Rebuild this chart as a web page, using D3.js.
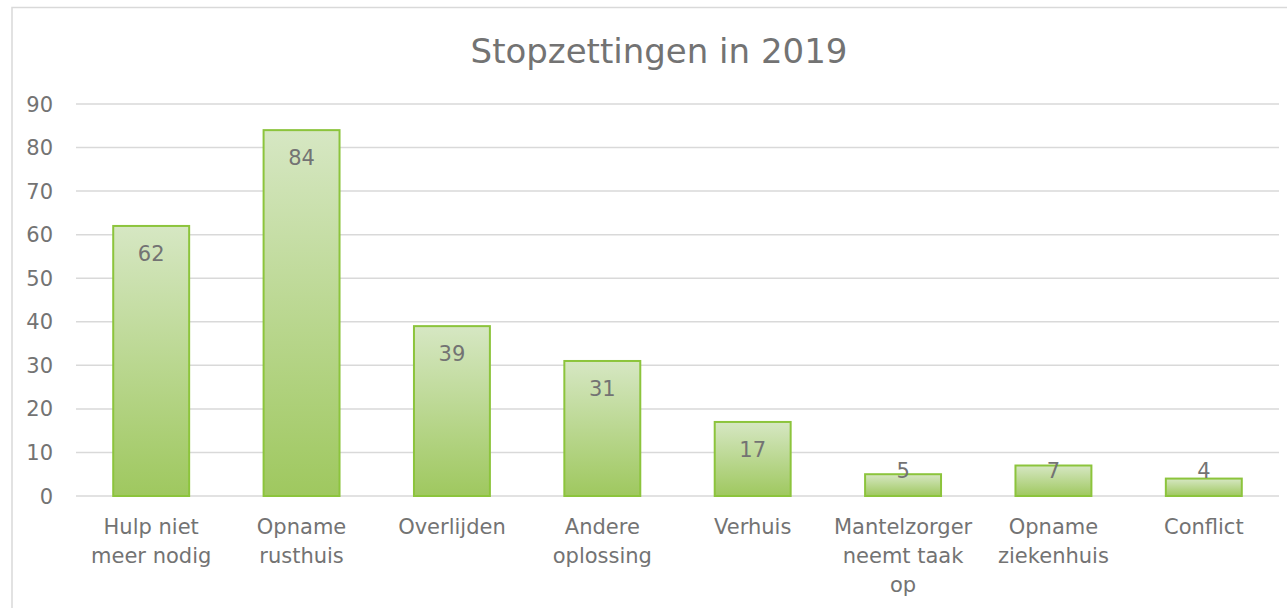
<!DOCTYPE html>
<html>
<head>
<meta charset="UTF-8">
<style>
  body { margin: 0; background: #fff; }
  svg { display: block; font-family: "DejaVu Sans", sans-serif; }
</style>
</head>
<body>
<svg width="1287" height="608"></svg>
<script src="https://d3js.org/d3.v7.min.js"></script>
<script>
const title = "Stopzettingen in 2019";
const categories = [
  ["Hulp niet", "meer nodig"],
  ["Opname", "rusthuis"],
  ["Overlijden"],
  ["Andere", "oplossing"],
  ["Verhuis"],
  ["Mantelzorger", "neemt taak", "op"],
  ["Opname", "ziekenhuis"],
  ["Conflict"]
];
const values = [62, 84, 39, 31, 17, 5, 7, 4];
const yTicks = [0, 10, 20, 30, 40, 50, 60, 70, 80, 90];

const svg = d3.select("svg");
const textColor = "#737373";

// chart border
svg.append("rect")
  .attr("x", 12).attr("y", 7.5)
  .attr("width", 1290).attr("height", 620)
  .attr("fill", "#fff").attr("stroke", "#d9d9d9").attr("stroke-width", 1.5);

const plotLeft = 76, plotRight = 1279, plotTop = 104, plotBottom = 496;

const x = d3.scaleBand()
  .domain(d3.range(categories.length))
  .range([plotLeft, plotRight])
  .paddingInner(0.495).paddingOuter(0.2475);

const y = d3.scaleLinear().domain([0, 90]).range([plotBottom, plotTop]);

const defs = svg.append("defs");
const grad = defs.append("linearGradient")
  .attr("id", "barGrad").attr("x1", 0).attr("x2", 0).attr("y1", 0).attr("y2", 1);
grad.append("stop").attr("offset", "0%").attr("stop-color", "#d6e7c3");
grad.append("stop").attr("offset", "100%").attr("stop-color", "#9fc85f");

// gridlines
svg.append("g").selectAll("line")
  .data(yTicks)
  .enter().append("line")
  .attr("x1", plotLeft).attr("x2", plotRight)
  .attr("y1", d => y(d)).attr("y2", d => y(d))
  .attr("stroke", "#d9d9d9").attr("stroke-width", 1.5);

// y tick labels
svg.append("g").selectAll("text")
  .data(yTicks)
  .enter().append("text")
  .attr("x", 53).attr("y", d => y(d))
  .attr("dy", "0.36em")
  .attr("text-anchor", "end")
  .attr("fill", textColor)
  .style("font-size", "21px")
  .text(d => d);

// bars
svg.append("g").selectAll("rect")
  .data(values)
  .enter().append("rect")
  .attr("x", (d, i) => x(i))
  .attr("y", d => y(d))
  .attr("width", x.bandwidth())
  .attr("height", d => y(0) - y(d))
  .attr("fill", "url(#barGrad)")
  .attr("stroke", "#8cc43c").attr("stroke-width", 2);

// value labels
svg.append("g").selectAll("text")
  .data(values)
  .enter().append("text")
  .attr("x", (d, i) => x(i) + x.bandwidth() / 2)
  .attr("y", d => Math.min(y(d) + 27, y(0) - 26))
  .attr("dy", "0.36em")
  .attr("text-anchor", "middle")
  .attr("fill", textColor)
  .style("font-size", "21px")
  .text(d => d);

// category labels
const cat = svg.append("g").selectAll("text")
  .data(categories)
  .enter().append("text")
  .attr("x", (d, i) => x(i) + x.bandwidth() / 2)
  .attr("y", 534)
  .attr("text-anchor", "middle")
  .attr("fill", textColor)
  .style("font-size", "21px");
cat.selectAll("tspan")
  .data(d => d)
  .enter().append("tspan")
  .attr("x", function() { return d3.select(this.parentNode).attr("x"); })
  .attr("dy", (d, i) => i === 0 ? 0 : 29)
  .text(d => d);

// title
svg.append("text")
  .attr("x", 659).attr("y", 63)
  .attr("text-anchor", "middle")
  .attr("fill", textColor)
  .style("font-size", "34px")
  .text(title);
</script>
</body>
</html>
